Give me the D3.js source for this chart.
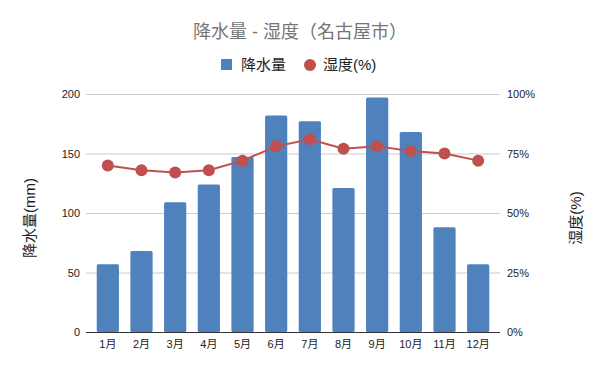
<!DOCTYPE html>
<html>
<head>
<meta charset="utf-8">
<script src="https://cdn.jsdelivr.net/npm/d3@7"></script>
<style>
  body { margin: 0; background: #fff; }
  text { font-family: "Liberation Sans", Arial, "Noto Sans CJK JP", sans-serif; }
</style>
</head>
<body>
<svg id="chart"></svg>
<script>
const months = ['1月', '2月', '3月', '4月', '5月', '6月', '7月', '8月', '9月', '10月', '11月', '12月']
const rainfall = [57, 68, 109, 124, 147, 182, 177, 121, 197, 168, 88, 57] // mm
const humidity = [70, 68, 67, 68, 72, 78, 81, 77, 78, 76, 75, 72] // %
const rainTicks = [0, 50, 100, 150, 200]
const humidTicks = [0, 25, 50, 75, 100]

const width = 600
const height = 371
const blue = '#4f81bd'
const red = '#c0504d'

const svg = d3.select('#chart').attr('width', width).attr('height', height)

const plot = {left: 86, right: 500, top: 94, bottom: 332}

const x = d3.scaleBand().domain(months).range([91, 495]).paddingInner(0.34).paddingOuter(0.17)
const yRain = d3.scaleLinear().domain([0, 200]).range([plot.bottom, plot.top])
const yHum = d3.scaleLinear().domain([0, 100]).range([plot.bottom, plot.top])

// gridlines
svg.append('g')
  .selectAll('line')
  .data(rainTicks.slice(1))
  .join('line')
  .attr('x1', plot.left).attr('x2', plot.right)
  .attr('y1', d => yRain(d) + 0.5).attr('y2', d => yRain(d) + 0.5)
  .attr('stroke', '#cccccc').attr('stroke-width', 1)

// left axis
const leftAxis = svg.append('g')
  .attr('transform', `translate(${plot.left},0)`)
  .call(d3.axisLeft(yRain).tickValues(rainTicks).tickSize(0).tickPadding(6))
leftAxis.select('.domain').remove()
leftAxis.selectAll('text').attr('font-size', 11).attr('fill', '#222')

// right axis
const rightAxis = svg.append('g')
  .attr('transform', `translate(${plot.right},0)`)
  .call(d3.axisRight(yHum).tickValues(humidTicks).tickSize(0).tickPadding(7).tickFormat(d => d + '%'))
rightAxis.select('.domain').remove()
rightAxis.selectAll('text').attr('font-size', 11).attr('fill', '#222')

// bars
svg.append('g')
  .selectAll('rect')
  .data(rainfall)
  .join('rect')
  .attr('x', (d, i) => x(months[i]))
  .attr('y', d => yRain(d))
  .attr('width', x.bandwidth())
  .attr('height', d => plot.bottom - yRain(d))
  .attr('rx', 1.5)
  .attr('fill', blue)

// baseline
svg.append('line')
  .attr('x1', plot.left).attr('x2', plot.right)
  .attr('y1', plot.bottom + 0.5).attr('y2', plot.bottom + 0.5)
  .attr('stroke', '#333').attr('stroke-width', 1)

// x axis labels
const bottomAxis = svg.append('g')
  .attr('transform', `translate(0,${plot.bottom})`)
  .call(d3.axisBottom(x).tickSize(0).tickPadding(8))
bottomAxis.select('.domain').remove()
bottomAxis.selectAll('text').attr('font-size', 11).attr('fill', '#222')

// humidity line
const line = d3.line()
  .x((d, i) => x(months[i]) + x.bandwidth() / 2)
  .y(d => yHum(d))
svg.append('path')
  .datum(humidity)
  .attr('d', line)
  .attr('fill', 'none')
  .attr('stroke', red)
  .attr('stroke-width', 2)
svg.append('g')
  .selectAll('circle')
  .data(humidity)
  .join('circle')
  .attr('cx', (d, i) => x(months[i]) + x.bandwidth() / 2)
  .attr('cy', d => yHum(d))
  .attr('r', 6)
  .attr('fill', red)

// title
svg.append('text')
  .attr('x', 300).attr('y', 38)
  .attr('text-anchor', 'middle')
  .attr('font-size', 18)
  .attr('fill', '#757575')
  .text('降水量 - 湿度（名古屋市）')

// legend
const legend = svg.append('g')
legend.append('rect').attr('x', 221).attr('y', 59).attr('width', 11).attr('height', 11).attr('fill', blue)
legend.append('text').attr('x', 241).attr('y', 70).attr('font-size', 15).attr('fill', '#222').text('降水量')
legend.append('circle').attr('cx', 310).attr('cy', 65).attr('r', 6).attr('fill', red)
legend.append('text').attr('x', 323).attr('y', 70).attr('font-size', 15).attr('fill', '#222').text('湿度(%)')

// axis titles
svg.append('text')
  .attr('transform', 'translate(35,218) rotate(-90)')
  .attr('text-anchor', 'middle')
  .attr('font-size', 15)
  .attr('fill', '#222')
  .text('降水量(mm)')
svg.append('text')
  .attr('transform', 'translate(581,218) rotate(-90)')
  .attr('text-anchor', 'middle')
  .attr('font-size', 15)
  .attr('fill', '#222')
  .text('湿度(%)')
</script>
</body>
</html>
